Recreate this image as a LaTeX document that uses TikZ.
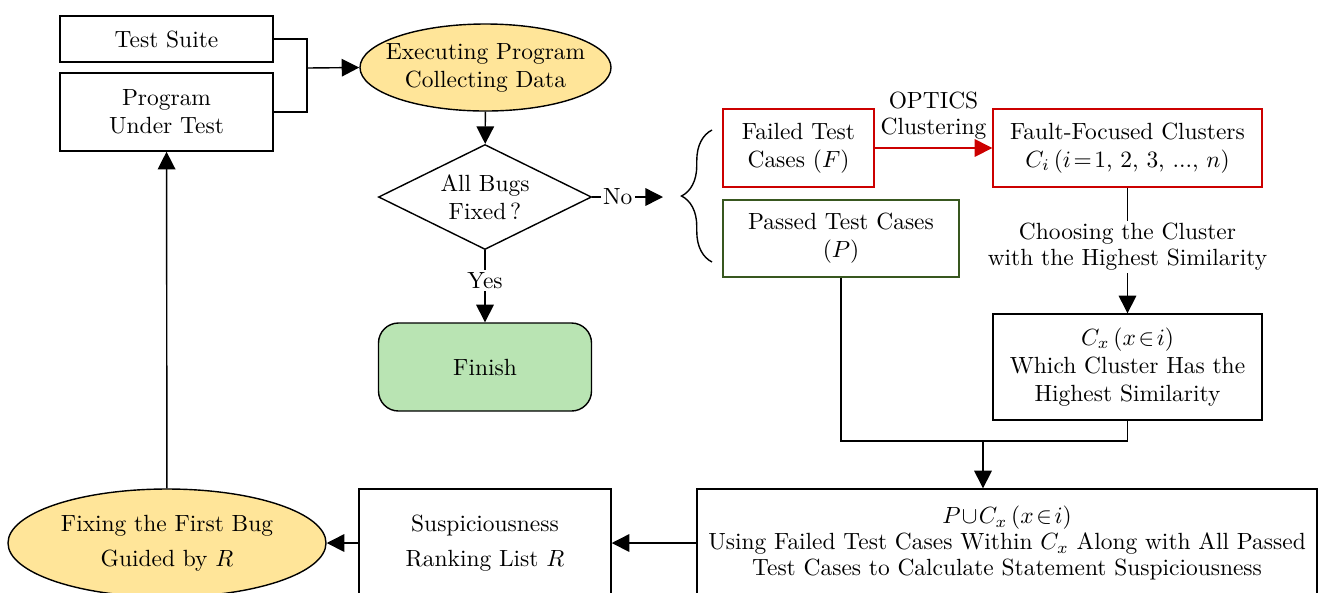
\documentclass[tikz,border=0pt]{standalone}
\usetikzlibrary{arrows.meta,shapes.geometric,decorations.pathreplacing}
\definecolor{ovalYellow}{HTML}{FFE599}
\definecolor{finishGreen}{HTML}{B9E4B3}
\definecolor{failRed}{HTML}{CC0000}
\definecolor{passGreen}{HTML}{38571F}
\begin{document}
\begin{tikzpicture}[x=0.015cm, y=-0.015cm, semithick,
  box/.style={draw, rectangle, align=center, inner sep=0pt},
  oval/.style={draw, ellipse, fill=ovalYellow, align=center, inner sep=0pt},
  arr/.style={-{Triangle[length=7.5pt,width=7.5pt]}},
  lbl/.style={fill=white, inner sep=1pt, align=center}]
  \useasboundingbox (0,0) rectangle (1333,592);
  % Inputs and execution
  \node[box, minimum width=3.195cm, minimum height=0.69cm] (suite) at (166.5,39) {Test Suite};
  \node[box, minimum width=3.195cm, minimum height=1.17cm] (put) at (166.5,112) {Program\\Under Test};
  \node[oval, inner xsep=-5pt, minimum width=3.765cm, minimum height=1.305cm] (exec) at (485.5,67.5)
       {Executing Program\\Collecting Data};
  \coordinate (merge) at (307,68);
  \draw (suite.east) -| (merge);
  \draw (put.east) -| (merge);
  \draw[arr] (merge) -- (exec.west);
  % Decision
  \node[draw, diamond, aspect=2, inner sep=0pt, align=center,
        minimum width=3.195cm, minimum height=1.575cm] (dec) at (485,197) {All Bugs\\Fixed\,?};
  \draw[arr] (exec) -- (dec);
  \node[box, rounded corners=0.3cm, fill=finishGreen,
        minimum width=3.195cm, minimum height=1.32cm] (finish) at (485,367) {Finish};
  \draw[arr] (dec) -- node[lbl, pos=0.42] {Yes} (finish);
  \coordinate (noEnd) at (663,197);
  \draw[arr] (dec.east) -- node[lbl, pos=0.36] {No} (noEnd);
  % Brace over failed / passed
  \coordinate (braceBot) at (712,262);
  \coordinate (braceTop) at (712,130);
  \draw[decorate, decoration={brace, amplitude=13pt}] (braceBot) -- (braceTop);
  % Failed and passed test cases
  \node[box, draw=failRed, minimum width=2.265cm, minimum height=1.17cm] (failed) at (798.5,148)
       {Failed Test\\Cases ($F$)};
  \node[box, draw=failRed, minimum width=4.035cm, minimum height=1.17cm] (fault) at (1127.5,148)
       {Fault-Focused Clusters\\$C_i\,(i\!=\!1$, 2, 3, ..., $n)$};
  \draw[arr, failRed] (failed) -- node[above=3.5pt, black, align=center, inner sep=0pt]
       {OPTICS\\[-1pt]Clustering} (fault);
  \node[box, draw=passGreen, minimum width=3.54cm, minimum height=1.155cm] (passed) at (841,238.5)
       {Passed Test Cases\\($P$)};
  % Choosing the cluster
  \node[box, minimum width=4.035cm, minimum height=1.59cm] (cx) at (1127.5,367)
       {$C_x\,(x\!\in\! i)$\\Which Cluster Has the\\Highest Similarity};
  \draw[arr] (fault) -- node[lbl, pos=0.47] {Choosing the Cluster\\[-1pt]with the Highest Similarity} (cx);
  % Union and suspiciousness
  \node[box, minimum width=9.3cm, minimum height=1.62cm] (puc) at (1007,543)
       {$P\!\cup\! C_x\,(x\!\in\! i)$\\[-1pt]Using Failed Test Cases Within $C_x$ Along with All Passed\\[-1pt]Test Cases to Calculate Statement Suspiciousness};
  \coordinate (mergeB) at (983,441);
  \draw (passed.south) |- (mergeB);
  \draw (cx.south) |- (mergeB);
  \draw[arr] (mergeB) -- (mergeB |- puc.north);
  \node[box, minimum width=3.78cm, minimum height=1.62cm] (susp) at (485,543)
       {Suspiciousness\\[3pt]Ranking List $R$};
  \node[oval, minimum width=4.77cm, minimum height=1.62cm] (fix) at (167,543)
       {Fixing the First Bug\\[3pt]Guided by $R$};
  \draw[arr] (puc) -- (susp);
  \draw[arr] (susp) -- (fix);
  \draw[arr] (fix) -- (put);
\end{tikzpicture}
\end{document}
